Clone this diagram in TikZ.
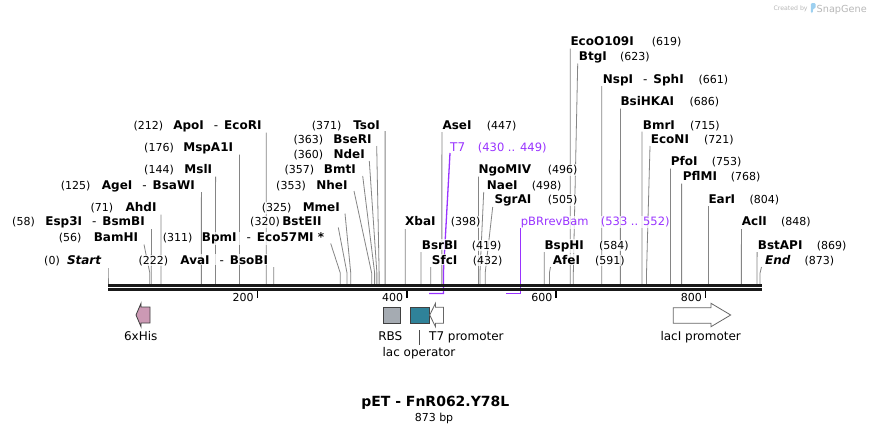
\documentclass[tikz,border=0pt]{standalone}
\usepackage{fontspec}
\setmainfont{DejaVu Sans}
\pgfdeclarelayer{bg}
\pgfsetlayers{bg,main}
\definecolor{enzgray}{HTML}{858585}
\definecolor{prim}{HTML}{9933FF}
\definecolor{hispink}{HTML}{CC99B4}
\definecolor{rbsgray}{HTML}{A5ABB2}
\definecolor{lacteal}{HTML}{2F8299}
\definecolor{featedge}{HTML}{404040}
\definecolor{credgray}{HTML}{B8B8B8}
\definecolor{logoblue}{HTML}{9DD0F0}
\tikzset{
  enzline/.style={draw=enzgray, line width=0.8pt},
  primline/.style={draw=prim, line width=1.3pt},
  labbg/.style={inner xsep=0pt, inner ysep=1pt, fill=white, fill opacity=0.75, text opacity=1},
  lab/.style={labbg, font=\fontsize{12}{14}\selectfont\bfseries},
  num/.style={labbg, font=\fontsize{11}{13}\selectfont},
  primtxt/.style={labbg, text=prim, font=\fontsize{11.5}{13}\selectfont},
  featlab/.style={inner sep=0pt, font=\fontsize{12}{14}\selectfont},
  tickline/.style={line width=1.6pt, black},
  ticklab/.style={inner sep=0pt, anchor=base east, font=\fontsize{11}{13}\selectfont},
  backbone/.style={line width=2.4pt, draw=black!90},
}
\newcommand\dsh{\hspace{10pt}{\mdseries-}\hspace{6pt}}
% left-side enzyme: id, name, name end x, baseline, pos, pos end x, top x, top y, bp
\newcommand\enzL[9]{%
  \begin{pgfonlayer}{bg}
  \coordinate (#1t) at (#7,#8);
  \coordinate (#1c) at ({108+0.7469*#9},284);
  \draw[enzline] (#1t) -- ({108+0.7469*#9},273) -- (#1c);
  \end{pgfonlayer}
  \node[lab,anchor=base east] (#1n) at (#3,#4) {#2};
  \node[num,anchor=base east] (#1p) at (#6,#4) {#5};
}
% right-side enzyme: id, name, name start x, baseline, pos, pos start x, top x, top y, bp
\newcommand\enzR[9]{%
  \begin{pgfonlayer}{bg}
  \coordinate (#1t) at (#7,#8);
  \coordinate (#1c) at ({108+0.7469*#9},284);
  \draw[enzline] (#1t) -- ({108+0.7469*#9},273) -- (#1c);
  \end{pgfonlayer}
  \node[lab,anchor=base west] (#1n) at (#3,#4) {#2};
  \node[num,anchor=base west] (#1p) at (#6,#4) {#5};
}
\begin{document}
\begin{tikzpicture}[x=1pt,y=-1pt]
\useasboundingbox (0,0) rectangle (870,434);
\begin{pgfonlayer}{bg}
\fill[white] (0,0) rectangle (870,434);
\end{pgfonlayer}

% Created by SnapGene
\node[inner sep=0pt, anchor=base west, text=credgray, font=\fontsize{6.2}{7}\selectfont] (cred) at (773.3,10.5) {Created by};
\fill[logoblue, rounded corners=1.2pt] (810.8,3) -- (815.5,3) -- (815.5,8.5) -- (812.8,8.5) -- (812.8,13) -- (810.8,13) -- cycle;
\node[inner sep=0pt, anchor=base west, text=credgray, font=\fontsize{9.7}{11}\selectfont] (snap) at (816.5,12) {SnapGene};

% left-side enzymes
\enzL{st}{\textit{Start}}{101.7}{264}{(0)}{60}{108}{268}{0}
\enzL{bam}{BamHI}{138.3}{241.7}{(56)}{81.7}{144}{244.5}{56}
\enzL{esp}{Esp3I\dsh BsmBI}{145}{225.7}{(58)}{35}{151.5}{229}{58}
\enzL{ahd}{AhdI}{156.7}{211.5}{(71)}{113.3}{161}{214.5}{71}
\enzL{age}{AgeI\dsh BsaWI}{195}{189}{(125)}{90.7}{201.4}{192}{125}
\enzL{msl}{MslI}{212.3}{173.5}{(144)}{174}{215.6}{176.5}{144}
\enzL{msp}{MspA1I}{233.3}{151.5}{(176)}{174}{239.5}{154.5}{176}
\enzL{apo}{ApoI\dsh EcoRI}{261.7}{129.5}{(212)}{163.3}{266.3}{132.5}{212}
\enzL{ava}{AvaI\dsh BsoBI}{268.3}{264}{(222)}{168.3}{273.8}{267}{222}
\enzL{bpm}{BpmI\dsh Eco57MI *}{324.3}{241.7}{(311)}{192.7}{330.7}{243.5}{311}
\enzL{bste}{BstEII}{321.7}{225.7}{(320)}{280}{338.3}{227.5}{320}
\enzL{mme}{MmeI}{340}{211.5}{(325)}{291.7}{345}{213.5}{325}
\enzL{nhe}{NheI}{347.7}{189}{(353)}{306}{354}{191}{353}
\enzL{bmt}{BmtI}{356}{173.5}{(357)}{314.3}{362.7}{176}{357}
\enzL{nde}{NdeI}{365}{158.5}{(360)}{323.3}{369.3}{161}{360}
\enzL{bser}{BseRI}{371.7}{143.5}{(363)}{323.3}{376.7}{146}{363}
\enzL{tso}{TsoI}{380}{129.5}{(371)}{341.7}{385.1}{131}{371}

% right-side enzymes
\enzR{xba}{XbaI}{405}{225.7}{(398)}{450.7}{405.3}{229}{398}
\enzR{bsrb}{BsrBI}{421.7}{249}{(419)}{471.7}{421}{252}{419}
\enzR{sfc}{SfcI}{431.7}{264}{(432)}{472.7}{430.7}{267}{432}
\enzR{ase}{AseI}{442.3}{129.5}{(447)}{486.7}{441.9}{132}{447}
\enzR{ngo}{NgoMIV}{478.3}{173.5}{(496)}{547.7}{478.5}{176.5}{496}
\enzR{nae}{NaeI}{486.7}{189}{(498)}{531.7}{483.7}{192}{498}
\enzR{sgr}{SgrAI}{494.3}{203.5}{(505)}{547.7}{492.7}{207}{505}
\enzR{bsph}{BspHI}{544.3}{249}{(584)}{599}{544.2}{252}{584}
\enzR{afe}{AfeI}{552.7}{264}{(591)}{595}{550.5}{267}{591}
\enzR{ecoo}{EcoO109I}{570.3}{45.7}{(619)}{651.7}{570.3}{48.5}{619}
\enzR{btg}{BtgI}{578.7}{60.7}{(623)}{620}{577.7}{63.5}{623}
\enzR{nsp}{NspI\dsh SphI}{602.7}{83.3}{(661)}{698.3}{601.7}{86}{661}
\enzR{bsih}{BsiHKAI}{620.3}{105.7}{(686)}{689.3}{620.4}{108.5}{686}
\enzR{bmr}{BmrI}{642.7}{129.5}{(715)}{690}{642}{131.5}{715}
\enzR{econ}{EcoNI}{650.7}{143.5}{(721)}{704}{650}{146}{721}
\enzR{pfo}{PfoI}{670.7}{165.7}{(753)}{711.7}{670.4}{168.5}{753}
\enzR{pflm}{PflMI}{682.7}{180.7}{(768)}{730.7}{681.6}{183.5}{768}
\enzR{ear}{EarI}{708.3}{203.5}{(804)}{749.3}{708.5}{206}{804}
\enzR{acl}{AclI}{741.7}{225.7}{(848)}{781}{741.4}{229}{848}
\enzR{bsta}{BstAPI}{757.7}{249}{(869)}{816.7}{757.1}{252}{869}
\enzR{endd}{\textit{End}}{765}{264}{(873)}{804.3}{761.5}{267}{873}

% primers
\coordinate (t7a) at (429.2,293.5);
\coordinate (t7b) at (443.4,293.5);
\coordinate (t7top) at (450,153);
\coordinate (pba) at (506.1,293.5);
\coordinate (pbb) at (520.2,293.5);
\coordinate (pbtop) at (520.2,228);
\begin{pgfonlayer}{bg}
\draw[primline] (t7a) -- (t7b) -- (443.4,273) -- (t7top);
\draw[primline] (pba) -- (pbb) -- (pbtop);
\end{pgfonlayer}
\node[primtxt, anchor=base west, font=\fontsize{12}{14}\selectfont] (t7n) at (450,151.5) {T7};
\node[primtxt, anchor=base west] (t7p) at (477.7,151.5) {(430 .. 449)};
\node[primtxt, anchor=base west] (pbn) at (520.7,225.7) {pBRrevBam};
\node[primtxt, anchor=base west] (pbp) at (600.7,225.7) {(533 .. 552)};

% backbone
\coordinate (bbl) at (108,285.3);
\coordinate (bbr) at (762,285.3);
\coordinate (bbl2) at (108,289.3);
\coordinate (bbr2) at (762,289.3);
\draw[backbone] (bbl) -- (bbr);
\draw[backbone] (bbl2) -- (bbr2);

% ticks
\foreach \v/\xx in {200/257.4, 400/406.8, 600/556.1, 800/705.5}{
  \draw[tickline] (\xx,290.5) -- (\xx,297.5);
  \node[ticklab] (tick\v) at (\xx-3.5,301.7) {\v};
}

% features
\filldraw[fill=hispink, draw=featedge, line width=0.8pt]
  (136,315) -- (141,303.3) -- (141,307) -- (150,307) -- (150,323) -- (141,323) -- (141,326.7) -- cycle;
\node[featlab, anchor=base] (hisl) at (140.7,340) {6xHis};

\filldraw[fill=rbsgray, draw=featedge, line width=0.8pt] (383.7,307.3) rectangle (400.7,323.3);
\node[featlab, anchor=base] (rbsl) at (390.3,340) {RBS};

\filldraw[fill=lacteal, draw=featedge, line width=0.8pt] (410.3,307.3) rectangle (429.7,323.3);
\coordinate (lacld1) at (419.3,330);
\coordinate (lacld2) at (419.3,345);
\draw[draw=black!70, line width=0.6pt] (lacld1) -- (lacld2);
\node[featlab, anchor=base] (lacol) at (419,356) {lac operator};

\filldraw[fill=white, draw=black!60, line width=0.8pt]
  (429.7,315) -- (435.5,303.3) -- (435.5,307.3) -- (443.4,307.3) -- (443.4,323.3) -- (435.5,323.3) -- (435.5,326.7) -- cycle;
\node[featlab, anchor=base] (t7pl) at (466.4,340) {T7 promoter};

\filldraw[fill=white, draw=black!60, line width=0.8pt]
  (673.3,307.7) -- (711,307.7) -- (711,303.3) -- (730.7,315) -- (711,326.7) -- (711,323.3) -- (673.3,323.3) -- cycle;
\node[featlab, anchor=base] (lacipl) at (700.7,340) {lacI promoter};

% title
\node[inner sep=0pt, anchor=base, font=\fontsize{14}{16}\selectfont\bfseries] (title) at (435.3,406.7) {pET - FnR062.Y78L};
\node[inner sep=0pt, anchor=base, font=\fontsize{11}{13}\selectfont] (bp) at (434,421) {873 bp};
\end{tikzpicture}
\end{document}
